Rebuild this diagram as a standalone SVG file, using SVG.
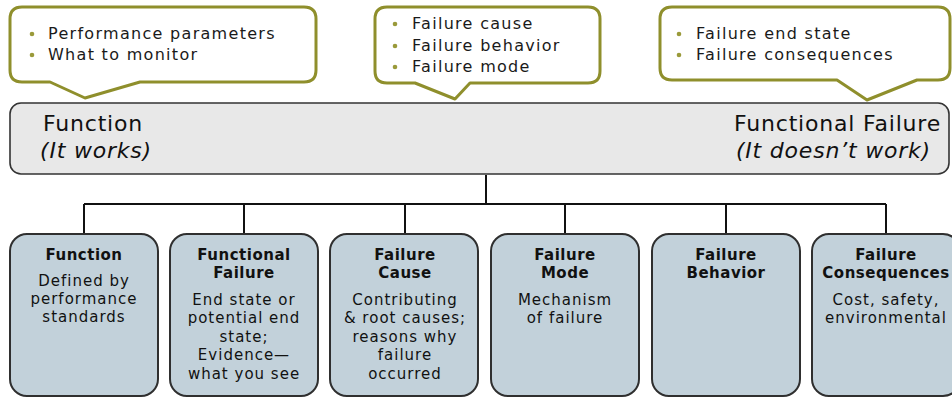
<svg xmlns="http://www.w3.org/2000/svg" width="952" height="398" viewBox="0 0 952 398">
<defs>
<style>
.callout{fill:#ffffff;stroke:#8f8f2c;stroke-width:3;stroke-linejoin:round}
.bullet{fill:#9a9a3a}
.ct{font-family:"DejaVu Sans",sans-serif;font-size:16px;letter-spacing:1.3px;fill:#1a1a1a}
.bar{fill:#e8e8e8;stroke:#333333;stroke-width:1.6}
.bt{font-family:"DejaVu Sans",sans-serif;font-size:22px;letter-spacing:0.8px;fill:#111111}
.bi{font-family:"DejaVu Sans",sans-serif;font-size:22px;letter-spacing:0.8px;font-style:italic;fill:#111111}
.conn{fill:none;stroke:#111111;stroke-width:2}
.box{fill:#c2d1da;stroke:#2f2f2f;stroke-width:2}
.title{font-family:"DejaVu Sans",sans-serif;font-size:15px;font-weight:bold;text-anchor:middle;fill:#111111;letter-spacing:0.5px}
.body{font-family:"DejaVu Sans",sans-serif;font-size:15px;text-anchor:middle;fill:#111111;letter-spacing:1px}
</style>
</defs>
<g id="callout1">
<path class="callout" d="M22 7 H304 Q316 7 316 19 V70 Q316 82 304 82 H140 L85 98 L50 82 H22 Q10 82 10 70 V19 Q10 7 22 7 Z"/>
<circle class="bullet" cx="32" cy="34" r="2.3"/>
<circle class="bullet" cx="32" cy="55" r="2.3"/>
<text class="ct" x="48" y="39">Performance parameters</text>
<text class="ct" x="48" y="60">What to monitor</text>
</g>
<g id="callout2">
<path class="callout" d="M387 7 H588 Q600 7 600 19 V71 Q600 83 588 83 H470 L455 99 L415 83 H387 Q375 83 375 71 V19 Q375 7 387 7 Z"/>
<circle class="bullet" cx="395" cy="24" r="2.3"/>
<circle class="bullet" cx="395" cy="46" r="2.3"/>
<circle class="bullet" cx="395" cy="67" r="2.3"/>
<text class="ct" x="412" y="29">Failure cause</text>
<text class="ct" x="412" y="51">Failure behavior</text>
<text class="ct" x="412" y="72">Failure mode</text>
</g>
<g id="callout3">
<path class="callout" d="M672 7 H938 Q950 7 950 19 V68 Q950 80 938 80 H917 L867 100 L837 80 H672 Q660 80 660 68 V19 Q660 7 672 7 Z"/>
<circle class="bullet" cx="679" cy="34" r="2.3"/>
<circle class="bullet" cx="679" cy="55" r="2.3"/>
<text class="ct" x="696" y="39">Failure end state</text>
<text class="ct" x="696" y="60">Failure consequences</text>
</g>
<g id="bar">
<rect class="bar" x="10" y="103" width="939" height="71" rx="11"/>
<text class="bt" x="43" y="131">Function</text>
<text class="bi" x="40" y="158">(It works)</text>
<text class="bt" x="941" y="131" text-anchor="end">Functional Failure</text>
<text class="bi" x="931" y="158" text-anchor="end">(It doesn’t work)</text>
</g>
<g id="connectors">
<path class="conn" d="M486 175 V204 M84 204 H886 M84 204 V234 M244 204 V234 M405 204 V234 M565 204 V234 M726 204 V234 M886 204 V234"/>
</g>
<g id="box-function">
<rect class="box" x="10" y="234" width="148" height="162" rx="17"/>
<text class="title" x="84" y="260">Function</text>
<text class="body" x="84" y="286">Defined by</text>
<text class="body" x="84" y="304">performance</text>
<text class="body" x="84" y="322">standards</text>
</g>
<g id="box-functional-failure">
<rect class="box" x="170" y="234" width="148" height="162" rx="17"/>
<text class="title" x="244" y="260">Functional</text>
<text class="title" x="244" y="278">Failure</text>
<text class="body" x="244" y="305">End state or</text>
<text class="body" x="244" y="323">potential end</text>
<text class="body" x="244" y="342">state;</text>
<text class="body" x="244" y="360">Evidence—</text>
<text class="body" x="244" y="379">what you see</text>
</g>
<g id="box-failure-cause">
<rect class="box" x="330" y="234" width="148" height="162" rx="17"/>
<text class="title" x="405" y="260">Failure</text>
<text class="title" x="405" y="278">Cause</text>
<text class="body" x="405" y="305">Contributing</text>
<text class="body" x="405" y="323">&amp; root causes;</text>
<text class="body" x="405" y="342">reasons why</text>
<text class="body" x="405" y="360">failure</text>
<text class="body" x="405" y="379">occurred</text>
</g>
<g id="box-failure-mode">
<rect class="box" x="491" y="234" width="148" height="162" rx="17"/>
<text class="title" x="565" y="260">Failure</text>
<text class="title" x="565" y="278">Mode</text>
<text class="body" x="565" y="305">Mechanism</text>
<text class="body" x="565" y="323">of failure</text>
</g>
<g id="box-failure-behavior">
<rect class="box" x="652" y="234" width="148" height="162" rx="17"/>
<text class="title" x="726" y="260">Failure</text>
<text class="title" x="726" y="278">Behavior</text>
</g>
<g id="box-failure-consequences">
<rect class="box" x="812" y="234" width="148" height="162" rx="17"/>
<text class="title" x="886" y="260">Failure</text>
<text class="title" x="886" y="278">Consequences</text>
<text class="body" x="886" y="305">Cost, safety,</text>
<text class="body" x="886" y="323">environmental</text>
</g>
</svg>
